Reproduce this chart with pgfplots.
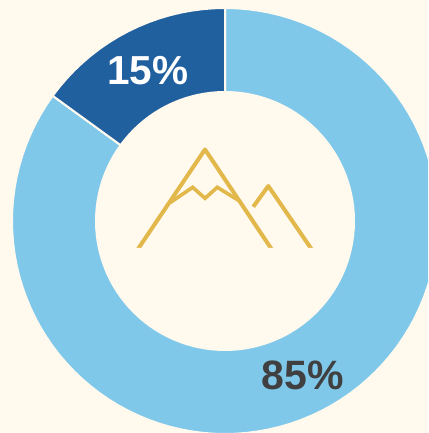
\documentclass[border=0pt]{standalone}
\usepackage{fontspec}
\setmainfont{Liberation Sans}
\usepackage{pgfplots}
\pgfplotsset{compat=1.18}
\definecolor{bgc}{HTML}{FFF9EE}
\definecolor{lightb}{HTML}{80C8EA}
\definecolor{darkb}{HTML}{21609E}
\definecolor{goldc}{HTML}{E2B84A}
\definecolor{txt}{HTML}{404040}
\begin{document}
\begin{tikzpicture}
\begin{axis}[
  scale only axis, width=428pt, height=433pt,
  xmin=-225, xmax=203, ymin=-212, ymax=221,
  axis lines=none,
  axis background/.style={fill=bgc},
  clip=true,
]
% 85% share: 306 degrees, from 144 to 450
\addplot[data cs=polar, fill=lightb, draw=bgc, line width=2pt, line join=miter] coordinates {
(144,213)(147,213)(150,213)(153,213)(156,213)(159,213)(162,213)(165,213)(168,213)(171,213)(174,213)(177,213)
(180,213)(183,213)(186,213)(189,213)(192,213)(195,213)(198,213)(201,213)(204,213)(207,213)(210,213)(213,213)
(216,213)(219,213)(222,213)(225,213)(228,213)(231,213)(234,213)(237,213)(240,213)(243,213)(246,213)(249,213)
(252,213)(255,213)(258,213)(261,213)(264,213)(267,213)(270,213)(273,213)(276,213)(279,213)(282,213)(285,213)
(288,213)(291,213)(294,213)(297,213)(300,213)(303,213)(306,213)(309,213)(312,213)(315,213)(318,213)(321,213)
(324,213)(327,213)(330,213)(333,213)(336,213)(339,213)(342,213)(345,213)(348,213)(351,213)(354,213)(357,213)
(360,213)(363,213)(366,213)(369,213)(372,213)(375,213)(378,213)(381,213)(384,213)(387,213)(390,213)(393,213)
(396,213)(399,213)(402,213)(405,213)(408,213)(411,213)(414,213)(417,213)(420,213)(423,213)(426,213)(429,213)
(432,213)(435,213)(438,213)(441,213)(444,213)(447,213)(450,213)
(450,129)(447,129)(444,129)(441,129)(438,129)(435,129)(432,129)(429,129)(426,129)(423,129)(420,129)(417,129)
(414,129)(411,129)(408,129)(405,129)(402,129)(399,129)(396,129)(393,129)(390,129)(387,129)(384,129)(381,129)
(378,129)(375,129)(372,129)(369,129)(366,129)(363,129)(360,129)(357,129)(354,129)(351,129)(348,129)(345,129)
(342,129)(339,129)(336,129)(333,129)(330,129)(327,129)(324,129)(321,129)(318,129)(315,129)(312,129)(309,129)
(306,129)(303,129)(300,129)(297,129)(294,129)(291,129)(288,129)(285,129)(282,129)(279,129)(276,129)(273,129)
(270,129)(267,129)(264,129)(261,129)(258,129)(255,129)(252,129)(249,129)(246,129)(243,129)(240,129)(237,129)
(234,129)(231,129)(228,129)(225,129)(222,129)(219,129)(216,129)(213,129)(210,129)(207,129)(204,129)(201,129)
(198,129)(195,129)(192,129)(189,129)(186,129)(183,129)(180,129)(177,129)(174,129)(171,129)(168,129)(165,129)
(162,129)(159,129)(156,129)(153,129)(150,129)(147,129)(144,129)(144,213)
};
% 15% share: 54 degrees, from 90 to 144
\addplot[data cs=polar, fill=darkb, draw=bgc, line width=2pt, line join=miter] coordinates {
(90,213)(93,213)(96,213)(99,213)(102,213)(105,213)(108,213)(111,213)(114,213)(117,213)
(120,213)(123,213)(126,213)(129,213)(132,213)(135,213)(138,213)(141,213)(144,213)
(144,129)(141,129)(138,129)(135,129)(132,129)(129,129)(126,129)(123,129)(120,129)(117,129)
(114,129)(111,129)(108,129)(105,129)(102,129)(99,129)(96,129)(93,129)(90,129)(90,213)
};
% mountain icon
\addplot[goldc, line width=4pt, line join=round, line cap=butt] coordinates {
(-89,-31)(-20,71.5)(48.5,-31)};
\addplot[goldc, line width=4pt, line join=round, line cap=butt] coordinates {
(28.3,14.3)(43.3,35)(88.5,-31)};
\addplot[goldc, line width=3.6pt, line join=miter, line cap=butt] coordinates {
(-55,18.3)(-32.3,33.7)(-20,22.7)(-7.7,33.7)(15.7,19.3)};
\addplot[bgc, fill=bgc, draw=none] coordinates {(-100,-27)(100,-27)(100,-40)(-100,-40)(-100,-27)};
\node[white, font=\bfseries\fontsize{40.5}{41}\selectfont] at (axis cs:-77,150) {15\%};
\node[txt, font=\bfseries\fontsize{41}{42}\selectfont] at (axis cs:77.5,-154) {85\%};
\end{axis}
\end{tikzpicture}
\end{document}
